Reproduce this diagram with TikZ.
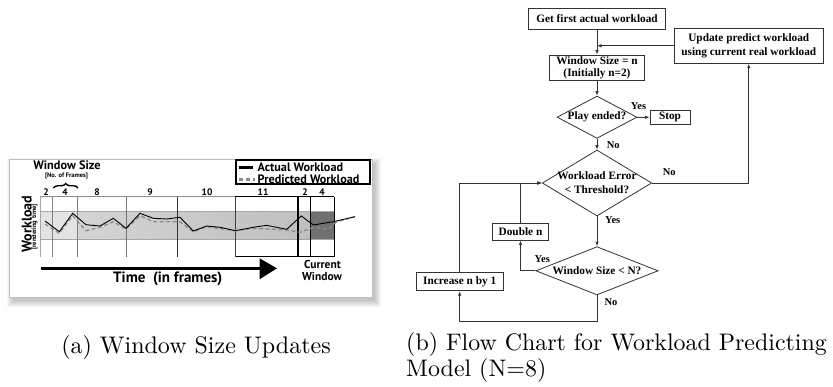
\documentclass[tikz,border=0pt]{standalone}
\usepackage{fontspec}
\usetikzlibrary{arrows.meta,shapes.geometric,decorations.pathreplacing,calc}
\newfontfamily\ptsans{PT Sans}
\newfontfamily\lserif{Liberation Serif}
\newfontfamily\capfont{lmroman10-regular}[Extension=.otf]
\newcommand\sansfs[1]{\ptsans\bfseries\fontsize{#1}{#1}\selectfont}
\newcommand\fcfont{\lserif\bfseries\fontsize{11.3}{14}\selectfont}
\tikzset{
  fbox/.style={draw=black!80, line width=0.8pt, fill=white, inner sep=0pt, font=\fcfont, align=center},
  fdia/.style={diamond, draw=black!80, line width=0.8pt, inner sep=0pt},
  dtext/.style={inner sep=0pt, font=\fcfont, align=center},
  flow/.style={draw=black!80, line width=0.8pt, -{Latex[length=4.5pt,width=3.5pt]}},
  flab/.style={font=\lserif\bfseries\fontsize{10.5}{12}\selectfont, inner sep=0pt},
  alab/.style={inner sep=0pt},
  gline/.style={draw=black!45, line width=0.8pt},
  kline/.style={draw=black, line width=1pt},
}
\begin{document}
\begin{tikzpicture}[x=1pt,y=-1pt]
\useasboundingbox (0,0) rectangle (833,386);

% ---------------- panel (a) ----------------
% soft shadow
\foreach \d in {0,1,2,3,4,5,6}
  \fill[black,opacity=0.035] (13-\d,164-\d) rectangle (375+\d,301+\d);
\draw[black!25, fill=white, line width=0.6pt] (9,159) rectangle (372,297);

% band
\fill[black!11] (40,211) rectangle (77.7,239.3);
\shade[left color=black!17, right color=black!25] (77.7,211) rectangle (310.7,239.3);
\fill[black!56] (310.7,211) rectangle (334.3,239.3);
\draw[black!35, line width=0.6pt] (40,211) -- (334.3,211);
\draw[black!35, line width=0.6pt] (40,239.3) -- (334.3,239.3);

% grid
\draw[gline] (40,196.7) -- (235.3,196.7);
\draw[kline] (235.3,196.7) -- (334.3,196.7);
\draw[kline] (235.3,256.5) -- (334.3,256.5);
\draw[black!35, line width=0.7pt] (40,196.7) -- (40,256.5);
\draw[black!50, line width=0.9pt] (52.3,196.7) -- (52.3,256.5);
\draw[black!50, line width=1pt] (77.7,196.7) -- (77.7,256.5);
\draw[black!55, line width=1pt] (126.3,196.7) -- (126.3,256.5);
\draw[black!80, line width=1pt] (177,196.7) -- (177,256.5);
\draw[black!75, line width=1pt] (235.3,196.7) -- (235.3,256.5);
\draw[black, line width=1.8pt] (298.3,196.7) -- (298.3,256.5);
\draw[black, line width=1.3pt] (310.7,196.7) -- (310.7,256.5);
\draw[black, line width=1pt] (334.3,196.7) -- (334.3,256.5);

% workload curves
\draw[black!45, line width=1.3pt, dash pattern=on 4pt off 2.5pt] plot coordinates {
 (45,224) (59.3,233.3) (72.7,215.7) (86,230.7) (100,227.3) (113.3,221.7)
 (126,229) (140,215.7) (153.3,221.7) (180,221.7) (193.3,231.7) (206.7,226.7)
 (235.3,230.7) (253.3,228.3) (286.7,230) (300,232.3) (313.3,227.3) (328.3,229)
 (336.7,221.7) (355,216.7)};
\draw[black, line width=0.9pt] plot coordinates {
 (45,221) (59.3,231.7) (72.7,213.3) (86,224.7) (100,226) (113.3,218.3)
 (126,228.3) (140,213.3) (153.3,218.3) (166.7,219) (180,217.3) (193.3,231)
 (206.7,226) (220,227.3) (235.3,230.7) (253.3,227.3) (266.7,225.3) (286.7,229.3)
 (301.3,216) (313.3,225) (333.3,221.7) (355,216.7)};

% window size labels
\node[alab, font=\sansfs{12.3}] (wsz) at (67,165) {Window Size};
\node[alab, font=\sansfs{6.5}] (nof) at (66.5,176) {[No. of Frames]};
\draw[decorate, decoration={brace, amplitude=4.5pt, aspect=0.5}, line width=1.4pt] (53.5,188) -- (78,188);
\foreach \x/\t [count=\i] in {46/2, 65/4, 97/8, 150/9, 207/10, 263/11, 305/2, 322/4}
  \node[alab, font=\sansfs{9.5}] (num\i) at (\x,192.5) {\t};

% legend
\draw[black, line width=1.6pt] (236,160) rectangle (370,184);
\draw[black, line width=2.5pt] (238.5,167.3) -- (253,167.3);
\draw[black!45, line width=2.5pt, dash pattern=on 4pt off 3pt] (239,179.3) -- (254.5,179.3);
\node[alab, anchor=west, font=\sansfs{12.2}] (lgA) at (257.5,167) {Actual Workload};
\node[alab, anchor=west, font=\sansfs{12.2}] (lgP) at (257.5,179.3) {Predicted Workload};

% y-axis label
\node[alab, rotate=90, font=\sansfs{14}] (wl) at (26.7,224) {Workload};
\node[alab, rotate=90, font=\sansfs{6.5}] (rt) at (34.5,227) {[rendering time]};

% time arrow
\draw[black, line width=3pt] (41,268.3) -- (262,268.3);
\fill[black] (259.5,258.3) -- (277,268.3) -- (259.5,279.3) -- cycle;
\node[alab, font=\sansfs{15}] (time) at (167.8,279) {Time\ \ (in frames)};
\node[alab, font=\sansfs{11.5}] (cur1) at (322.5,264) {Current};
\node[alab, font=\sansfs{11.5}] (cur2) at (322,276.7) {Window};

% captions
\node[inner sep=0pt, anchor=base, font=\capfont\fontsize{24}{26}\selectfont] (capa) at (196,353) {(a) Window Size Updates};
\node[inner sep=0pt, anchor=base west, font=\capfont\fontsize{23.9}{26}\selectfont] (capb1) at (406,350) {(b) Flow Chart for Workload Predicting};
\node[inner sep=0pt, anchor=base west, font=\capfont\fontsize{23.9}{26}\selectfont] (capb2) at (406,376) {Model (N=8)};

% ---------------- panel (b) ----------------
\node[fbox, minimum width=136.7pt, minimum height=21pt] (get) at (597,18.8) {Get first actual workload};
\node[fbox, minimum width=149pt, minimum height=35pt] (update) at (748.8,45.8) {Update predict workload\\using current real workload};
\node[fbox, minimum width=95pt, minimum height=25.7pt, font=\lserif\bfseries\fontsize{11.3}{11.7}\selectfont] (ws) at (597,67.8) {Window Size = n\\(Initially n=2)};
\node[fdia, minimum width=80pt, minimum height=42.3pt] (play) at (597,117.2) {};
\node[dtext] (playt) at (play) {Play ended?};
\node[fbox, minimum width=40pt, minimum height=14pt] (stop) at (670,117.2) {Stop};
\node[fdia, minimum width=109.4pt, minimum height=66pt] (werr) at (597,183) {};
\node[dtext] (werrt) at (597,182.5) {Workload Error\\< Threshold?};
\node[fdia, minimum width=122.3pt, minimum height=48.3pt] (wsn) at (597,270.8) {};
\node[dtext] (wsnt) at (wsn) {Window Size < N?};
\node[fbox, minimum width=55.6pt, minimum height=16.7pt] (dbl) at (520.5,231.7) {Double n};
\node[fbox, minimum width=87.3pt, minimum height=18pt] (inc) at (459.7,281.7) {Increase n by 1};
\coordinate (lowbend) at (597,321);

\draw[flow] (get) -- (ws);
\draw[flow] (update.west) -- (update.west -| get.south);
\draw[flow] (ws) -- (play);
\draw[flow] (play) -- (stop);
\draw[flow] (play) -- (werr);
\draw[flow] (werr.east) -| (update.south);
\draw[flow] (werr) -- (wsn);
\draw[flow] (wsn.west) -| (dbl.south);
\draw[flow] (dbl.north) |- (werr.west);
\draw[flow] (wsn.south) -- (lowbend) -| (inc.south);
\draw[flow] (inc.north) |- (werr.west);

\node[flab] (y1) at (638.5,106) {Yes};
\node[flab] (n1) at (613.3,145) {No};
\node[flab] (n2) at (669.3,172.3) {No};
\node[flab] (y2) at (612.7,220) {Yes};
\node[flab] (y3) at (542.3,259) {Yes};
\node[flab] (n3) at (611,301.7) {No};
\end{tikzpicture}
\end{document}
